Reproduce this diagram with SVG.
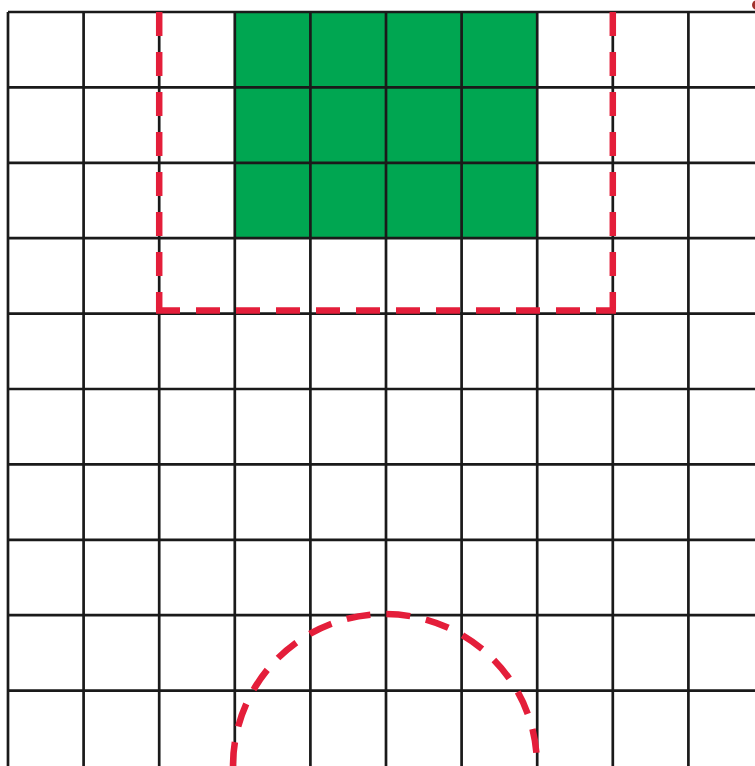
<svg xmlns="http://www.w3.org/2000/svg" width="755" height="766" viewBox="0 0 755 766">
<style>
.grid{stroke:#1a1a1a;stroke-width:2.7;fill:none}
.red{stroke:#e41e3a;stroke-width:6.5;fill:none;stroke-dasharray:24 16}
</style>
<rect width="755" height="766" fill="#fff"/>
<g id="green">
<rect x="234.8" y="12" width="302.4" height="226.2" fill="#00a651"/>
</g>
<g id="grid" class="grid">
<path d="M8 12V766M83.6 12V766M159.2 12V766M234.8 12V766M310.4 12V766M386 12V766M461.6 12V766M537.2 12V766M612.8 12V766M688.4 12V766"/>
<path d="M8 12H755M8 87.4H755M8 162.8H755M8 238.2H755M8 313.6H755M8 389H755M8 464.4H755M8 539.8H755M8 615.2H755M8 690.6H755"/>
</g>
<g id="connectors">
<path class="red" d="M159.2 12V310.5"/>
<path class="red" d="M612.8 12V310.5"/>
<path class="red" d="M156 310.5H616" stroke-dasharray="24 14.6"/>
<path class="red" d="M233 766A152 152 0 0 1 537 766" stroke-dasharray="22 15"/>
</g>
<circle cx="757" cy="5" r="5" fill="#a0302a"/>
</svg>
